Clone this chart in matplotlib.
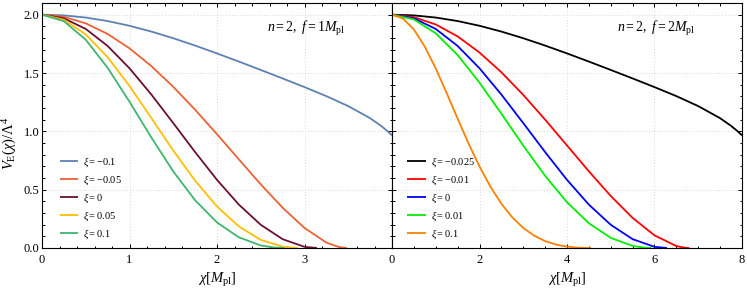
import matplotlib
matplotlib.use("Agg")
import matplotlib.pyplot as plt
from matplotlib.ticker import MultipleLocator, FormatStrFormatter

plt.rcParams['font.family'] = 'serif'
plt.rcParams['font.serif'] = ['Liberation Serif', 'DejaVu Serif']
plt.rcParams['mathtext.fontset'] = 'custom'
plt.rcParams['mathtext.rm'] = 'Liberation Serif'
plt.rcParams['mathtext.it'] = 'Liberation Serif:italic'
plt.rcParams['mathtext.bf'] = 'Liberation Serif:bold'

# ---- left panel: n=2, f=1 M_pl ----
x_m010 = [0, 0.25, 0.5, 0.75, 1.0, 1.25, 1.5, 1.75, 2.0, 2.25, 2.5, 2.75, 3.0,
          3.25, 3.5, 3.75, 3.875, 3.95, 4.0]
v_m010 = [2.0, 1.9938, 1.9753, 1.9453, 1.9048, 1.8552, 1.7980, 1.7351, 1.6679,
          1.5979, 1.5262, 1.4533, 1.3791, 1.3017, 1.2163, 1.1126, 1.0469, 1.0007, 0.9656]

x_m005 = [0, 0.25, 0.5, 0.75, 1.0, 1.25, 1.5, 1.75, 2.0, 2.25, 2.5, 2.75, 3.0,
          3.25, 3.4, 3.483]
v_m005 = [2.0, 1.9813, 1.9257, 1.8349, 1.7115, 1.5589, 1.3818, 1.1853, 0.9755,
          0.7595, 0.5458, 0.3451, 0.1718, 0.0463, 0.0065, 0.0]

x_0 = [0, 0.25, 0.5, 0.75, 1.0, 1.25, 1.5, 1.75, 2.0, 2.25, 2.5, 2.75, 3.0, 3.1416]
v_0 = [2.0, 1.9689, 1.8776, 1.7317, 1.5403, 1.3153, 1.0707, 0.8222, 0.5839,
       0.3718, 0.1989, 0.0757, 0.0100, 0.0]

x_p005 = [0, 0.25, 0.5, 0.75, 1.0, 1.25, 1.5, 1.75, 2.0, 2.25, 2.5, 2.75, 2.9, 2.928]
v_p005 = [2.0, 1.9566, 1.8308, 1.6351, 1.3885, 1.1140, 0.8359, 0.5768, 0.3555,
          0.1845, 0.0700, 0.0113, 0.0003, 0.0]

x_p010 = [0, 0.25, 0.5, 0.75, 1.0, 1.25, 1.5, 1.75, 2.0, 2.25, 2.5, 2.65, 2.773]
v_p010 = [2.0, 1.9444, 1.7854, 1.5447, 1.2536, 0.9468, 0.6569, 0.4091, 0.2190,
          0.0913, 0.0220, 0.0041, 0.0]

# ---- right panel: n=2, f=2 M_pl ----
x_m0025 = [0, 0.5, 1.0, 1.5, 2.0, 2.5, 3.0, 3.5, 4.0, 4.5, 5.0, 5.5, 6.0,
           6.5, 7.0, 7.5, 7.75, 7.9, 8.0]
v_m0025 = [2.0, 1.9938, 1.9753, 1.9453, 1.9048, 1.8552, 1.7980, 1.7351, 1.6679,
           1.5979, 1.5262, 1.4533, 1.3791, 1.3017, 1.2163, 1.1126, 1.0469, 1.0007, 0.9656]

x_m001 = [0, 0.5, 1.0, 1.5, 2.0, 2.5, 3.0, 3.5, 4.0, 4.5, 5.0, 5.5, 6.0, 6.5, 6.7, 6.797]
v_m001 = [2.0, 1.9788, 1.9160, 1.8137, 1.6755, 1.5064, 1.3123, 1.1003, 0.8789,
          0.6572, 0.4460, 0.2580, 0.1083, 0.0166, 0.0018, 0.0]

x_r0 = [0, 0.5, 1.0, 1.5, 2.0, 2.5, 3.0, 3.5, 4.0, 4.5, 5.0, 5.5, 6.0, 6.2832]
v_r0 = [2.0, 1.9689, 1.8776, 1.7317, 1.5403, 1.3153, 1.0707, 0.8222, 0.5839,
        0.3718, 0.1989, 0.0757, 0.0100, 0.0]

x_p001 = [0, 0.5, 1.0, 1.5, 2.0, 2.5, 3.0, 3.5, 4.0, 4.5, 5.0, 5.5, 5.8, 5.930]
v_p001 = [2.0, 1.9591, 1.8401, 1.6539, 1.4174, 1.1513, 0.8778, 0.6186, 0.3921,
          0.2122, 0.0868, 0.0176, 0.0015, 0.0]

x_p01 = [0, 0.25, 0.5, 0.75, 1.0, 1.25, 1.5, 1.75, 2.0, 2.25, 2.5, 2.75, 3.0,
         3.25, 3.5, 3.75, 4.0, 4.25, 4.5, 4.547]
v_p01 = [2.0, 1.9675, 1.8730, 1.7257, 1.5389, 1.3282, 1.1092, 0.8957, 0.6988,
         0.5255, 0.3799, 0.2625, 0.1721, 0.1056, 0.0593, 0.0292, 0.0116, 0.0028,
         0.0001, 0.0]

left_series = [(x_m010, v_m010, r'$\xi{=}{-}0.1$', '#5e81b5'),
               (x_m005, v_m005, r'$\xi{=}{-}0.05$', '#eb6235'),
               (x_0, v_0, r'$\xi{=}0$', '#6b0f32'),
               (x_p005, v_p005, r'$\xi{=}0.05$', '#ffbf00'),
               (x_p010, v_p010, r'$\xi{=}0.1$', '#3fb56e')]
right_series = [(x_m0025, v_m0025, r'$\xi{=}{-}0.025$', '#000000'),
                (x_m001, v_m001, r'$\xi{=}{-}0.01$', '#ff0000'),
                (x_r0, v_r0, r'$\xi{=}0$', '#0000ff'),
                (x_p001, v_p001, r'$\xi{=}0.01$', '#00ee00'),
                (x_p01, v_p01, r'$\xi{=}0.1$', '#ff8000')]

W, H = 747, 293
fig = plt.figure(figsize=(W / 100, H / 100), dpi=100)
ax1 = fig.add_axes([42 / W, 1 - 248 / H, 350 / W, 245 / H])
ax2 = fig.add_axes([392 / W, 1 - 248 / H, 350 / W, 245 / H])

for ax, series, xmax, xmaj, xmin, label, lx in [
        (ax1, left_series, 4, 1, 0.2, r'$n{=}2,\ f{=}1M_{\mathrm{pl}}$', 0.05),
        (ax2, right_series, 8, 2, 0.5, r'$n{=}2,\ f{=}2M_{\mathrm{pl}}$', 0.043)]:
    for xs, vs, lab, col in series:
        ax.plot(xs, vs, color=col, lw=1.3, label=lab, solid_capstyle='butt')
    ax.set_xlim(0, xmax)
    ax.set_ylim(0, 2.1)
    ax.xaxis.set_major_locator(MultipleLocator(xmaj))
    ax.xaxis.set_minor_locator(MultipleLocator(xmin))
    ax.yaxis.set_major_locator(MultipleLocator(0.5))
    ax.yaxis.set_minor_locator(MultipleLocator(0.1))
    ax.yaxis.set_major_formatter(FormatStrFormatter('%.1f'))
    ax.tick_params(which='both', direction='in', top=True, right=True,
                   labelsize=9, width=0.7)
    ax.tick_params(which='major', length=3)
    ax.tick_params(which='minor', length=1.8)
    ax.tick_params(axis='x', pad=4)
    ax.tick_params(axis='y', pad=2)
    ax.grid(True, which='major', color='#cccccc', lw=0.6, ls=(0, (1, 2.5)))
    for sp in ax.spines.values():
        sp.set_linewidth(0.8)
    ax.text(0.755 * xmax, 1.88, label, fontsize=10, ha='center', va='center')
    ax.legend(loc='lower left', bbox_to_anchor=(lx, 0.03), frameon=False,
              fontsize=7.5, handlelength=1.8, handletextpad=0.5,
              labelspacing=0.42, borderpad=0, borderaxespad=0)

ax1.set_xticks([0, 1, 2, 3])
ax2.tick_params(labelleft=False)

fig.text(10 / W, 1 - 143 / H, r'$V_{\mathrm{E}}(\chi)/\Lambda^4$', rotation=90,
         ha='center', va='center', fontsize=10.5)
fig.text(217 / W, 1 - 280 / H, r'$\chi[M_{\mathrm{pl}}]$', ha='center',
         va='center', fontsize=10.5)
fig.text(567 / W, 1 - 280 / H, r'$\chi[M_{\mathrm{pl}}]$', ha='center',
         va='center', fontsize=10.5)

fig.savefig('out.png', dpi=100)
